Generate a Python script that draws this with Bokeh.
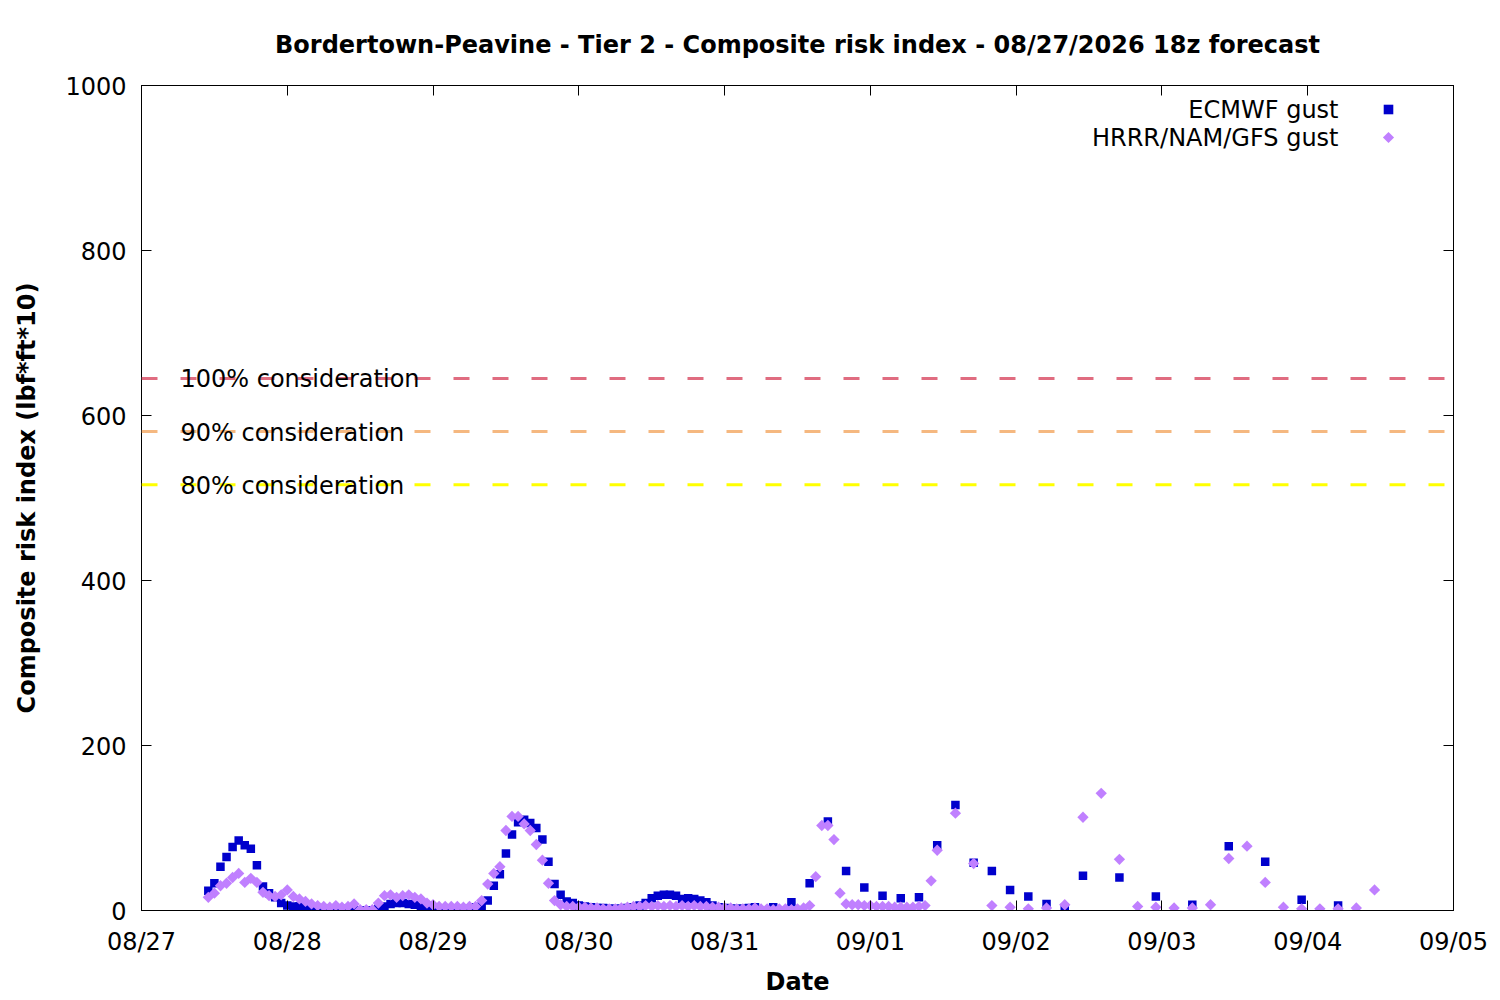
import numpy as np
import pandas as pd
from bokeh.plotting import figure
from bokeh.models import (Range1d, FixedTicker, DatetimeAxis, LinearAxis, Span, Label,
                          Legend, LegendItem, ColumnDataSource, PolyAnnotation)
from bokeh.embed import file_html
from bokeh.resources import INLINE

# ---------------- data ----------------
run_start = "2026-08-27 11:00"   # 18z run, local time

ecmwf_hours = list(range(0, 91)) + list(range(93, 142, 3)) + list(range(144, 187, 6))
ecmwf_hourly = [24, 33, 53, 65, 77, 85, 79, 75, 55, 29,
                21, 16, 9, 6, 5, 5, 4, 3, 2, 2,
                1, 1, 1, 2, 0, 0, 0, 0, 2, 5,
                8, 9, 9, 8, 7, 4, 3, 2, 1, 1,
                1, 1, 1, 2, 4, 5, 12, 30, 44, 69,
                92, 107, 110, 106, 100, 86, 59, 32, 19, 11,
                9, 6, 5, 4, 3, 3, 2, 2, 2, 3,
                4, 6, 9, 15, 18, 19, 19, 18, 14, 15,
                14, 12, 10, 6, 4, 3, 2, 2, 2, 3,
                4]
ecmwf_3h = [4, 10, 33, 108, 48, 28, 18, 15, 16, 79, 128, 58, 48, 25, 17, 8, 3]
ecmwf_6h = [42, 40, 17, 7, 78, 59, 13, 6]

hrrr_hours = list(range(0, 121)) + list(range(123, 193, 3))
hrrr_hourly = [16, 21, 30, 33, 40, 45, 34, 39, 34, 22,
               18, 17, 19, 25, 17, 14, 11, 8, 6, 5,
               4, 6, 4, 5, 8, 1, 1, 1, 9, 18,
               19, 16, 18, 19, 16, 14, 9, 7, 5, 5,
               5, 5, 4, 5, 5, 12, 32, 45, 53, 97,
               114, 114, 105, 97, 80, 61, 33, 12, 7, 5,
               5, 4, 4, 3, 3, 2, 2, 2, 3, 4,
               5, 5, 6, 5, 6, 5, 6, 5, 6, 5,
               6, 5, 5, 4, 4, 3, 3, 2, 2, 2,
               3, 2, 2, 1, 2, 2, 1, 2, 3, 6,
               41, 103, 103, 86, 21, 8, 7, 7, 6, 6,
               5, 5, 5, 4, 4, 4, 4, 5, 6, 36,
               73]
hrrr_3h = [118, 57, 6, 4, 2, 3, 7, 113, 142, 62, 5, 4, 3, 3, 7, 63, 78, 34, 4, 2, 2, 2, 3, 25]

thresholds = [645, 580.5, 516]
threshold_labels = ["100% consideration", "90% consideration", "80% consideration"]
threshold_colors = ["#e06c80", "#f5b880", "#ffff00"]

tick_dates = ["2026-08-27", "2026-08-28", "2026-08-29", "2026-08-30", "2026-08-31",
              "2026-09-01", "2026-09-02", "2026-09-03", "2026-09-04", "2026-09-05"]
tick_labels = ["08/27", "08/28", "08/29", "08/30", "08/31",
               "09/01", "09/02", "09/03", "09/04", "09/05"]
y_ticks = [0, 200, 400, 600, 800, 1000]

series_names = ["ECMWF gust", "HRRR/NAM/GFS gust"]
title_text = "Bordertown-Peavine - Tier 2 - Composite risk index - 08/27/2026 18z forecast"

# ---------------- build ----------------
t0 = pd.Timestamp(run_start)
ec_t = [t0 + pd.Timedelta(hours=h) for h in ecmwf_hours]
ec_v = ecmwf_hourly + ecmwf_3h + ecmwf_6h
hr_t = [t0 + pd.Timedelta(hours=h) for h in hrrr_hours]
hr_v = hrrr_hourly + hrrr_3h

src_ec = ColumnDataSource(data=dict(t=ec_t, v=ec_v))
src_hr = ColumnDataSource(data=dict(t=hr_t, v=hr_v))
# a single non-plotted (NaN) entry, only used to draw the legend swatch
src_key = ColumnDataSource(data=dict(t=[t0], v=[np.nan]))

tick_ms = [pd.Timestamp(d).value // 10**6 for d in tick_dates]
FONT = "DejaVu Sans"
BLUE = "#0000cc"
PURPLE = "#c080ff"

p = figure(width=1500, height=1000, x_axis_type="datetime",
           x_range=Range1d(pd.Timestamp(tick_dates[0]), pd.Timestamp(tick_dates[-1])),
           y_range=Range1d(0, 1000),
           output_backend="svg", toolbar_location=None,
           min_border_left=141, min_border_right=47, min_border_top=85, min_border_bottom=90)

p.grid.visible = False
p.outline_line_color = "black"
p.outline_line_width = 1
p.outline_line_alpha = 1
p.background_fill_color = "white"
p.border_fill_color = "white"

p.title.text = title_text
p.title.text_font = FONT
p.title.text_font_size = "24px"
p.title.text_font_style = "bold"
p.title.align = "center"
p.title.text_color = "black"
p.title.standoff = 54

def style_axis(ax):
    ax.major_tick_in = 10
    ax.major_tick_out = 0
    ax.minor_tick_in = 0
    ax.minor_tick_out = 0
    ax.axis_line_color = "black"
    ax.major_tick_line_color = "black"
    ax.major_label_text_font = FONT
    ax.major_label_text_font_size = "24px"
    ax.major_label_text_color = "black"
    ax.axis_label_text_font = FONT
    ax.axis_label_text_font_size = "24px"
    ax.axis_label_text_font_style = "bold"
    ax.axis_label_text_color = "black"

xa = p.xaxis[0]
xa.ticker = FixedTicker(ticks=tick_ms)
xa.major_label_overrides = {ms: lbl for ms, lbl in zip(tick_ms, tick_labels)}
style_axis(xa)
xa.major_label_standoff = 17
xa.axis_label = "Date"
xa.axis_label_standoff = 9

ya = p.yaxis[0]
ya.ticker = FixedTicker(ticks=y_ticks)
style_axis(ya)
ya.major_label_standoff = 15
ya.axis_label = "Composite risk index (lbf*ft*10)"
ya.axis_label_standoff = 21

# mirrored tick marks (no labels) on top and right
top = DatetimeAxis(ticker=FixedTicker(ticks=tick_ms))
style_axis(top)
top.major_label_text_color = None
top.major_label_text_font_size = "1px"
top.major_label_standoff = 0
p.add_layout(top, "above")

right = LinearAxis(ticker=FixedTicker(ticks=y_ticks))
style_axis(right)
right.major_label_text_color = None
right.major_label_text_font_size = "1px"
right.major_label_standoff = 0
p.add_layout(right, "right")

for val, lbl, col in zip(thresholds, threshold_labels, threshold_colors):
    p.add_layout(Span(location=val, dimension="width", line_color=col,
                      line_width=3, line_dash="16 23"))
    p.add_layout(Label(x=39, y=val, x_units="screen", y_units="data", text=lbl,
                       text_font=FONT, text_font_size="24px", text_color="black",
                       text_align="left", text_baseline="middle", y_offset=-1))

r_ec = p.scatter(x="t", y="v", source=src_ec, marker="square", size=8.5,
                 fill_color=BLUE, line_color=BLUE, line_width=0)
r_hr = p.scatter(x="t", y="v", source=src_hr, marker="square", angle=np.pi / 4,
                 size=8, fill_color=PURPLE, line_color=PURPLE, line_width=0)
# legend swatch for the diamond series (legend swatches ignore marker angle)
r_hr_key = p.scatter(x="t", y="v", source=src_key, marker="diamond",
                     fill_color=PURPLE, line_color=PURPLE, line_width=0)

# legend: text on the left, symbol on the right (as in the original)
KEY_X, KEY_Y0, KEY_DY = 1247, 801, 28
legend = Legend(items=[LegendItem(label=" ", renderers=[r_ec]),
                       LegendItem(label=" ", renderers=[r_hr_key])],
                location=(KEY_X - 12, KEY_Y0 - 42), glyph_width=24, glyph_height=KEY_DY,
                label_height=KEY_DY, label_width=0, label_standoff=0,
                label_text_font_size="1px", label_text_color=None,
                padding=0, margin=0, spacing=0,
                border_line_color=None, background_fill_alpha=0)
p.add_layout(legend)

# equal-sided diamond swatch drawn over the legend symbol
hd = 5.6
ky = KEY_Y0 - KEY_DY
p.add_layout(PolyAnnotation(xs=[KEY_X - hd, KEY_X, KEY_X + hd, KEY_X],
                            ys=[ky, ky + hd, ky, ky - hd],
                            xs_units="screen", ys_units="screen",
                            fill_color=PURPLE, fill_alpha=1.0, line_color=PURPLE,
                            line_width=0))

for i, name in enumerate(series_names):
    p.add_layout(Label(x=KEY_X - 50, y=KEY_Y0 - KEY_DY * i, x_units="screen", y_units="screen",
                       text=name, text_font=FONT, text_font_size="24px",
                       text_color="black", text_align="right", text_baseline="middle"))

open("out.html", "w").write(file_html(p, INLINE))
